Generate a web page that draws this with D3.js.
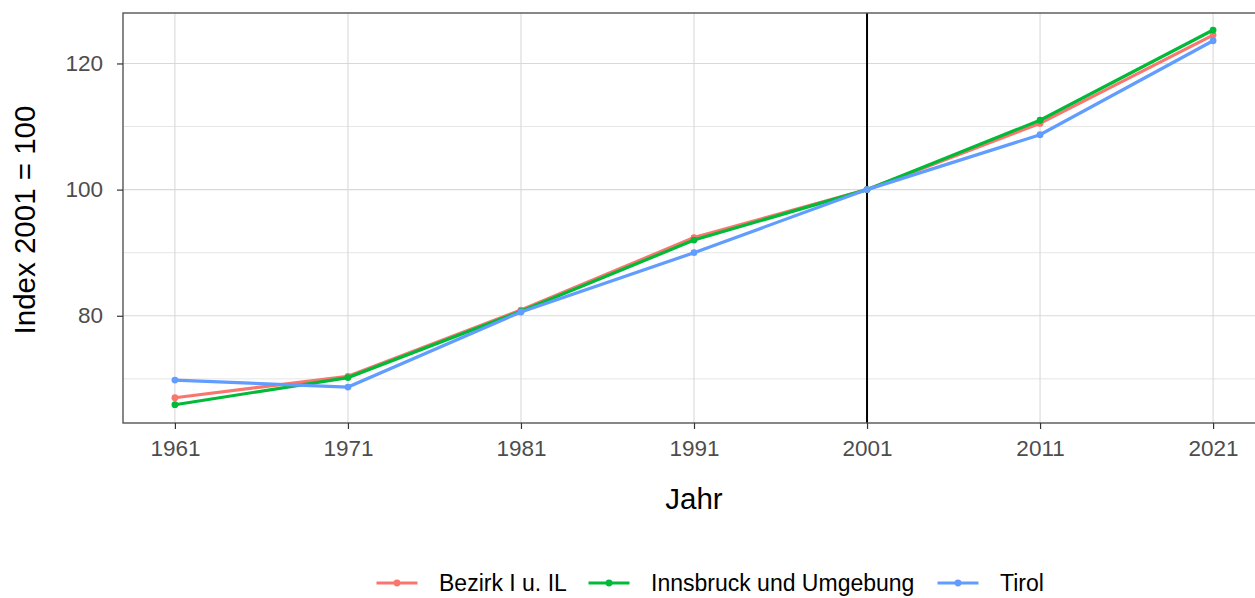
<!DOCTYPE html>
<html>
<head>
<meta charset="utf-8">
<script src="https://cdn.jsdelivr.net/npm/d3@7"></script>
<style>
  body { margin: 0; background: #fff; overflow: hidden; }
  text { font-family: "Liberation Sans", Arial, sans-serif; }
</style>
</head>
<body>
<div id="chart"></div>
<script>
// data
const years = [1961, 1971, 1981, 1991, 2001, 2011, 2021];
const bezirk = [67.0, 70.4, 80.9, 92.4, 100, 110.5, 124.5];
const innsbruck = [65.9, 70.2, 80.7, 92.0, 100, 111.0, 125.3];
const tirol = [69.8, 68.7, 80.6, 90.0, 100, 108.7, 123.6];
const seriesNames = ["Bezirk I u. IL", "Innsbruck und Umgebung", "Tirol"];
const seriesColors = ["#F8766D", "#00BA38", "#619CFF"];
const yTicks = [80, 100, 120];
const yMinor = [70, 90, 110];

const W = 1255, H = 598;
// the panel runs a little past the right edge of the picture, as in the original
const panel = {left: 123, right: 1265, top: 13, bottom: 423};

const svg = d3.select("#chart").append("svg")
    .attr("width", W)
    .attr("height", H);

// scales
let x = d3.scaleLinear()
    .domain([1958, 2024])
    .range([panel.left, panel.right]);
let y = d3.scaleLinear()
    .domain([63.0, 128.0])
    .range([panel.bottom, panel.top]);

// grid
let grid = svg.append("g");
grid.selectAll("line.minor")
    .data(yMinor)
    .enter().append("line")
    .attr("x1", panel.left).attr("x2", panel.right)
    .attr("y1", d => y(d)).attr("y2", d => y(d))
    .attr("stroke", "#e6e6e6").attr("stroke-width", 1);
grid.selectAll("line.majory")
    .data(yTicks)
    .enter().append("line")
    .attr("x1", panel.left).attr("x2", panel.right)
    .attr("y1", d => y(d)).attr("y2", d => y(d))
    .attr("stroke", "#d9d9d9").attr("stroke-width", 1.1);
grid.selectAll("line.majorx")
    .data(years)
    .enter().append("line")
    .attr("x1", d => x(d)).attr("x2", d => x(d))
    .attr("y1", panel.top).attr("y2", panel.bottom)
    .attr("stroke", "#d9d9d9").attr("stroke-width", 1.1);

// vertical reference line at 2001
svg.append("line")
    .attr("x1", x(2001)).attr("x2", x(2001))
    .attr("y1", panel.top).attr("y2", panel.bottom)
    .attr("stroke", "#000").attr("stroke-width", 2);

// series
let allSeries = [bezirk, innsbruck, tirol].map((vals, i) => ({
    name: seriesNames[i],
    color: seriesColors[i],
    values: years.map((yr, j) => ({year: yr, v: vals[j]}))
}));

let line = d3.line().x(d => x(d.year)).y(d => y(d.v));

allSeries.forEach(s => {
    let g = svg.append("g");
    g.append("path")
        .datum(s.values)
        .attr("d", line)
        .attr("fill", "none")
        .attr("stroke", s.color)
        .attr("stroke-width", 3.2);
    g.selectAll("circle")
        .data(s.values)
        .enter().append("circle")
        .attr("cx", d => x(d.year))
        .attr("cy", d => y(d.v))
        .attr("r", 3.4)
        .attr("fill", s.color);
});

// panel border
svg.append("rect")
    .attr("x", panel.left).attr("y", panel.top)
    .attr("width", panel.right - panel.left)
    .attr("height", panel.bottom - panel.top)
    .attr("fill", "none")
    .attr("stroke", "#555").attr("stroke-width", 1.4);

// axes
let xAxis = svg.append("g")
    .attr("transform", "translate(0," + panel.bottom + ")")
    .call(d3.axisBottom(x).tickValues(years).tickFormat(d3.format("d")).tickSize(6).tickPadding(11));
let yAxis = svg.append("g")
    .attr("transform", "translate(" + panel.left + ",0)")
    .call(d3.axisLeft(y).tickValues(yTicks).tickSize(6).tickPadding(14));
[xAxis, yAxis].forEach(a => {
    a.select(".domain").remove();
    a.selectAll(".tick line").attr("stroke", "#333").attr("stroke-width", 1.2);
    a.selectAll(".tick text")
        .attr("fill", "#4d4d4d")
        .style("font-family", "'Liberation Sans', Arial, sans-serif")
        .style("font-size", "22.5px");
});

// axis titles
svg.append("text")
    .attr("x", (panel.left + panel.right) / 2)
    .attr("y", 509)
    .attr("text-anchor", "middle")
    .style("font-size", "29.5px")
    .text("Jahr");
svg.append("text")
    .attr("transform", "translate(35," + ((panel.top + panel.bottom) / 2 + 2) + ") rotate(-90)")
    .attr("text-anchor", "middle")
    .style("font-size", "29.5px")
    .text("Index 2001 = 100");

// legend (nudged up a little so descenders stay inside the picture)
let legendCenters = [397, 609, 958];
let legend = svg.append("g").attr("transform", "translate(0,583)");
allSeries.forEach((s, i) => {
    let lg = legend.append("g").attr("transform", "translate(" + legendCenters[i] + ",0)");
    lg.append("line")
        .attr("x1", -20.5).attr("x2", 20.5).attr("y1", 0).attr("y2", 0)
        .attr("stroke", s.color).attr("stroke-width", 3.2);
    lg.append("circle")
        .attr("cx", 0).attr("cy", 0).attr("r", 3.4)
        .attr("fill", s.color);
    lg.append("text")
        .attr("x", 42).attr("y", 8)
        .style("font-size", "23px")
        .text(s.name);
});
</script>
</body>
</html>
